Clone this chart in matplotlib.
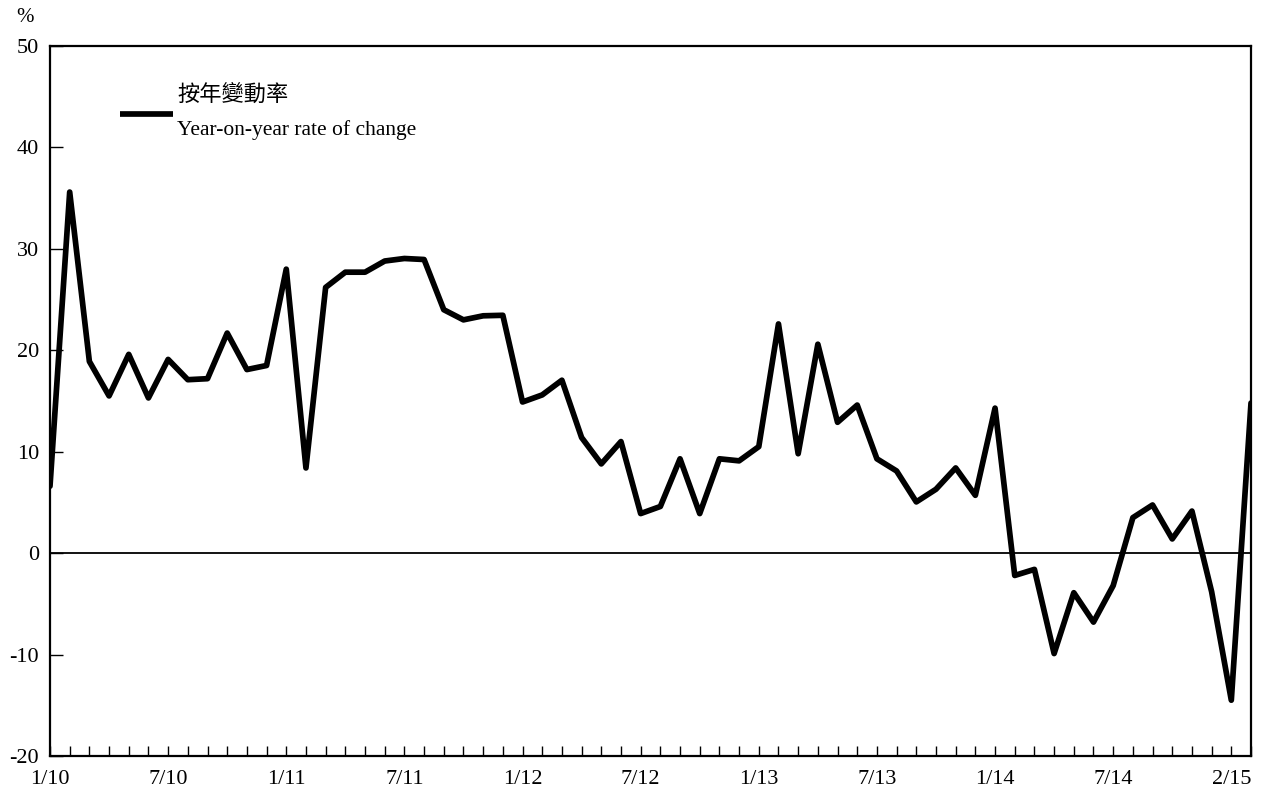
import matplotlib
matplotlib.use("Agg")
import matplotlib.pyplot as plt
import numpy as np

# 按年變動率 (%), 1/2010 - 2/2015, monthly
yoy = [6.6, 35.6, 18.9, 15.5, 19.6, 15.3, 19.1, 17.1, 17.2, 21.7,
       18.1, 18.5, 28.0, 8.4, 26.2, 27.7, 27.7, 28.8, 29.05, 28.95,
       24.0, 23.0, 23.4, 23.45, 14.9, 15.6, 17.05, 11.4, 8.8, 11.0,
       3.9, 4.6, 9.3, 3.9, 9.3, 9.1, 10.5, 22.6, 9.8, 20.6,
       12.9, 14.6, 9.3, 8.1, 5.05, 6.3, 8.4, 5.7, 14.3, -2.2,
       -1.6, -9.9, -3.9, -6.8, -3.2, 3.5, 4.75, 1.4, 4.15, -3.8,
       -14.5, 14.8]
tick_pos = [0, 6, 12, 18, 24, 30, 36, 42, 48, 54, 61]
tick_lab = ["1/10", "7/10", "1/11", "7/11", "1/12", "7/12",
            "1/13", "7/13", "1/14", "7/14", "2/15"]
yticks = [-20, -10, 0, 10, 20, 30, 40, 50]

serif = ["Liberation Serif", "DejaVu Serif"]
cjk = ["Noto Sans CJK TC", "DejaVu Sans"]

fig = plt.figure(figsize=(12.71, 7.95), dpi=100)
ax = fig.add_axes([50/1271, 1-756/795, 1201/1271, 710/795])

x = np.arange(len(yoy))
ax.plot(x, yoy, color="black", lw=4.1, solid_joinstyle="round",
        solid_capstyle="round", zorder=3)
ax.axhline(0, color="black", lw=1.3, zorder=2)

ax.set_xlim(0, len(yoy) - 1)
ax.set_ylim(-20, 50)

for s in ax.spines.values():
    s.set_linewidth(1.6)

ax.set_yticks(yticks)
ax.set_yticklabels([str(v) for v in yticks], family=serif, fontsize=16)
ax.tick_params(axis="y", direction="in", length=9, width=1, pad=8)

ax.set_xticks(x, minor=True)
ax.set_xticks(tick_pos)
ax.set_xticklabels(tick_lab, family=serif, fontsize=16)
ax.tick_params(axis="x", which="both", direction="in", length=7, width=1, pad=10)
ax.get_xticklabels()[-1].set_horizontalalignment("right")

# legend
ax.plot([3.55, 6.25], [43.3, 43.3], color="black", lw=4.1,
        solid_capstyle="butt", zorder=3)
ax.text(6.45, 45.2, "按年變動率", family=cjk, fontsize=16, weight="light",
        va="center", ha="left")
ax.text(6.45, 41.7, "Year-on-year rate of change", family=serif, fontsize=15.5,
        va="center", ha="left")

fig.text(25/1271, 1-18/795, "%", family=serif, fontsize=15, ha="center", va="center")

fig.savefig("out.png", dpi=100)
